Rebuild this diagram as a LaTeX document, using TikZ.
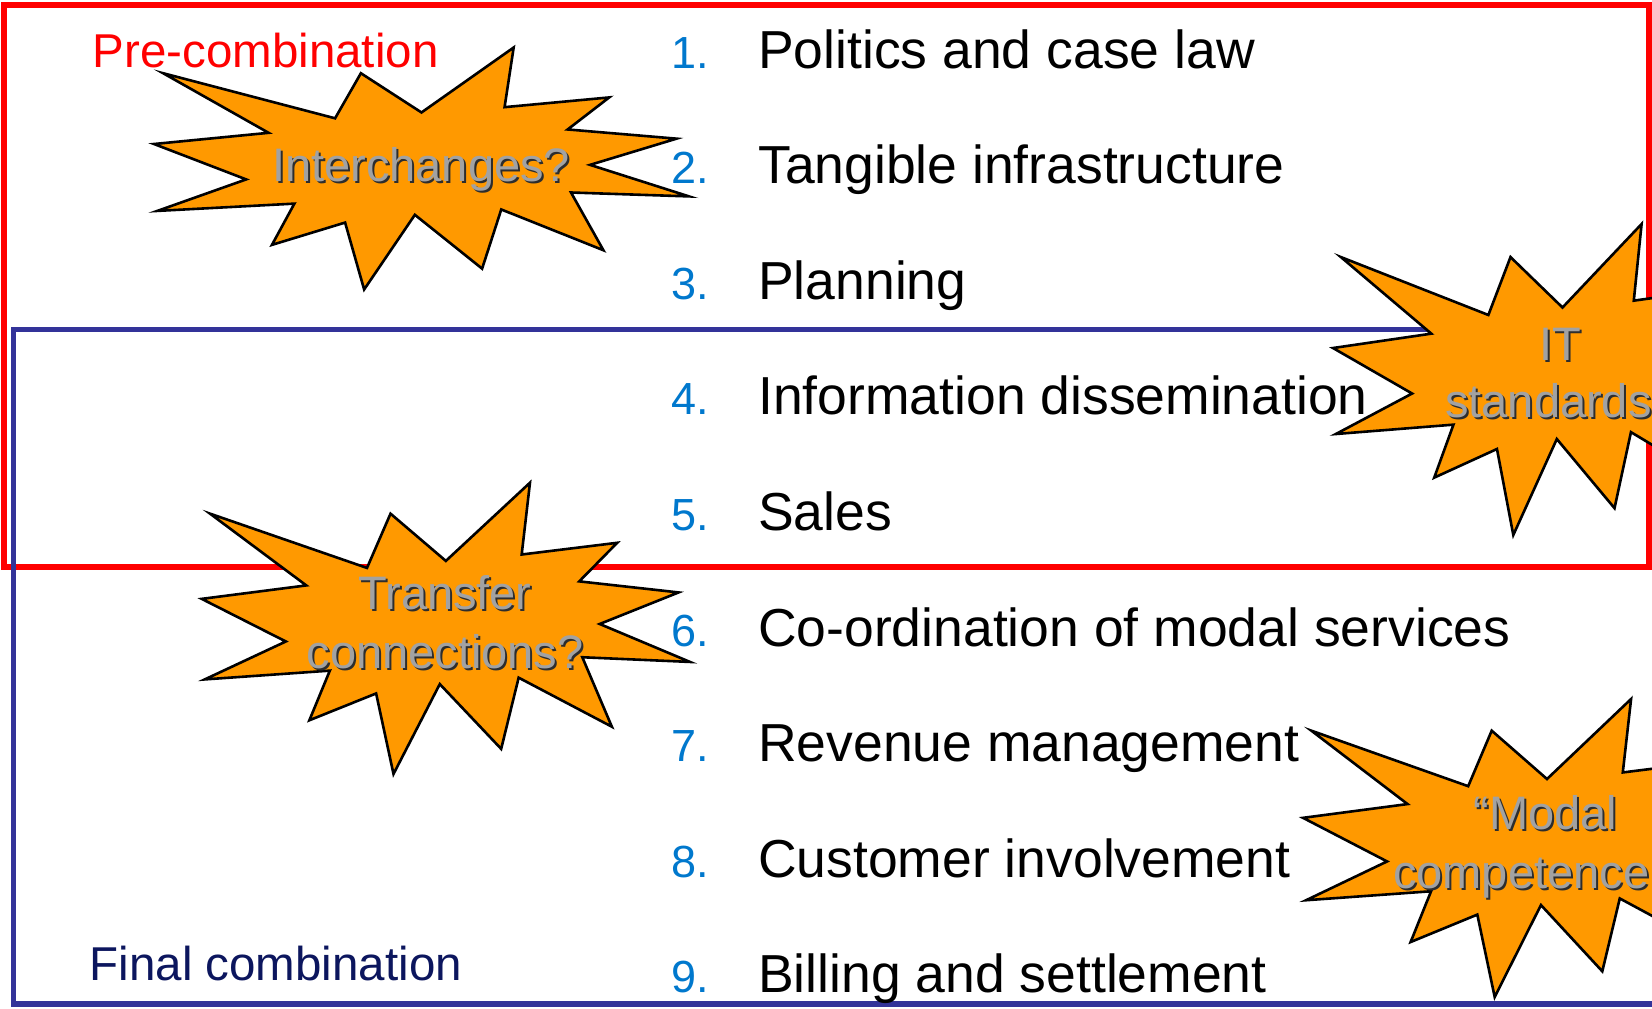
\documentclass[tikz,border=0pt]{standalone}
\usepackage{fontspec}
\setmainfont{Liberation Sans}
\definecolor{prered}{RGB}{255,0,0}
\definecolor{finalblue}{RGB}{51,51,153}
\definecolor{finalnavy}{RGB}{12,22,94}
\definecolor{numblue}{RGB}{0,120,205}
\definecolor{burstfill}{RGB}{255,153,0}
\definecolor{burstgray}{RGB}{162,162,162}
\definecolor{burstshade}{RGB}{45,45,45}

% Explosion outline in a 1000 x 1000 box
\newcommand\burstpath{(500,268.5) -- (672.3,0) -- (655.3,246.5) -- (850.9,206.3) -- (773.2,338.7) -- (976.7,376.7) -- (815.1,485.0) -- (1000,615.3) -- (779.5,599.2) -- (840.0,837.7) -- (649.1,669.3) -- (613.3,913.8) -- (487.6,691.4) -- (392.8,1000) -- (357.2,723.5) -- (220.5,815.6) -- (262.4,645.2) -- (6.25,675.3) -- (172.3,545.1) -- (0,398.8) -- (214.2,352.6) -- (17.1,106.3) -- (338.5,292.6) -- (386.7,106.3) -- cycle}
% #1,#2: top-left corner; #3,#4: width and height
\newcommand\drawburst[4]{%
  \begin{scope}[shift={(#1,#2)}, xscale=#3/1000, yscale=#4/1000]
    \draw[burst] \burstpath;
  \end{scope}}
% shadowed label inside a burst: #1 name, #2 x, #3 y, #4 anchor, #5 text
\newcommand\burstlabel[5]{%
  \node[bursttext, text=burstshade, anchor=#4] at (#2+2,#3+2) {#5};
  \node[bursttext, anchor=#4] (#1) at (#2,#3) {#5};}

\begin{document}
\begin{tikzpicture}[x=1pt, y=-1pt,
  groupframe/.style={line width=5.5pt},
  burst/.style={draw=black, line width=2.6pt, fill=burstfill, line join=miter},
  bursttext/.style={font=\fontsize{47}{56}\selectfont, text=burstgray, inner sep=0pt},
  grouplabel/.style={font=\fontsize{47.5}{57}\selectfont, inner sep=0pt, anchor=base west},
  itemnum/.style={font=\fontsize{45}{54}\selectfont, text=numblue, inner sep=0pt, anchor=base west},
  itemtext/.style={font=\fontsize{53.5}{64}\selectfont, text=black, inner sep=0pt, anchor=base west}]

\useasboundingbox (0,0) rectangle (1652,1009);
\clip (0,0) rectangle (1652,1009);
\fill[white] (0,0) rectangle (1652,1009);

% the two groupings
\draw[groupframe, draw=prered] (4,5) rectangle (1649,567);
\draw[groupframe, draw=finalblue] (13.5,329.5) rectangle (1720,1004);

\node[grouplabel, text=prered] (pre) at (92.5,67.5) {Pre-combination};
\node[grouplabel, text=finalnavy] (final) at (89.5,980) {Final combination};

% numbered list
\foreach \k/\txt in {1/Politics and case law, 2/Tangible infrastructure, 3/Planning,
  4/Information dissemination, 5/Sales, 6/Co-ordination of modal services,
  7/Revenue management, 8/Customer involvement, 9/Billing and settlement}{
  \pgfmathsetmacro\by{68+(\k-1)*115.6}
  \node[itemnum] (num\k) at (671,\by) {\k.};
  \node[itemtext] (item\k) at (758,\by) {\txt};
}

% bursts
\drawburst{154}{47.5}{535}{242}
\burstlabel{interchanges}{421}{181}{base}{Interchanges?}

\drawburst{201.7}{482.7}{488.3}{291.3}
\burstlabel{transferA}{445}{609.3}{base}{Transfer}
\burstlabel{transferB}{445}{668}{base}{connections?}

\drawburst{1333}{224}{459}{311}
\burstlabel{itA}{1560}{360}{base}{IT}
\burstlabel{itB}{1445}{417}{base west}{standards}

\drawburst{1303}{699}{488}{298}
\burstlabel{modalA}{1545.5}{829}{base}{“Modal}
\burstlabel{modalB}{1393}{888}{base west}{competence}

\end{tikzpicture}
\end{document}
